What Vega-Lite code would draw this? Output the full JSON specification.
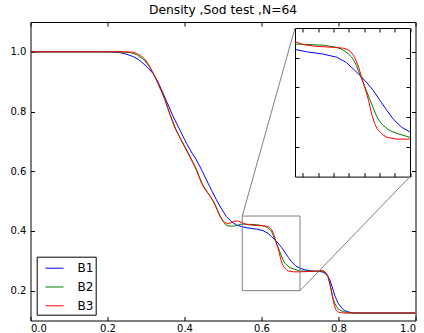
{
  "$schema": "https://vega.github.io/schema/vega-lite/v6.json",
  "width": 385,
  "height": 298.5,
  "autosize": "none",
  "padding": {"left": 30.5, "top": 22, "right": 8.5, "bottom": 12.5},
  "background": "white",
  "title": {"text": "Density ,Sod test ,N=64", "font": "DejaVu Sans", "fontSize": 12.3, "fontWeight": "normal", "color": "black", "offset": 5, "anchor": "middle"},
  "config": {
    "view": {"stroke": null},
    "axis": {"grid": false, "title": null, "domainColor": "black", "domainWidth": 1, "tickColor": "black", "tickWidth": 1, "tickSize": -4, "labelColor": "black", "labelFont": "DejaVu Sans", "labelFontSize": 10}
  },
  "datasets": {
    "curves": [
      {"s":"B1","x":0.0,"y":1.0},{"s":"B1","x":0.2,"y":1.0},{"s":"B1","x":0.23,"y":0.998},{"s":"B1","x":0.25,"y":0.992},{"s":"B1","x":0.267,"y":0.984},{"s":"B1","x":0.28,"y":0.975},{"s":"B1","x":0.292,"y":0.962},{"s":"B1","x":0.305,"y":0.947},{"s":"B1","x":0.318,"y":0.928},{"s":"B1","x":0.33,"y":0.902},{"s":"B1","x":0.34,"y":0.874},{"s":"B1","x":0.355,"y":0.83},{"s":"B1","x":0.37,"y":0.785},{"s":"B1","x":0.388,"y":0.738},{"s":"B1","x":0.405,"y":0.694},{"s":"B1","x":0.42,"y":0.66},{"s":"B1","x":0.431,"y":0.638},{"s":"B1","x":0.445,"y":0.603},{"s":"B1","x":0.457,"y":0.571},{"s":"B1","x":0.47,"y":0.537},{"s":"B1","x":0.483,"y":0.504},{"s":"B1","x":0.496,"y":0.474},{"s":"B1","x":0.509,"y":0.448},{"s":"B1","x":0.522,"y":0.431},{"s":"B1","x":0.535,"y":0.42},{"s":"B1","x":0.55,"y":0.414},{"s":"B1","x":0.565,"y":0.41},{"s":"B1","x":0.587,"y":0.406},{"s":"B1","x":0.604,"y":0.401},{"s":"B1","x":0.617,"y":0.392},{"s":"B1","x":0.626,"y":0.381},{"s":"B1","x":0.635,"y":0.37},{"s":"B1","x":0.643,"y":0.359},{"s":"B1","x":0.652,"y":0.345},{"s":"B1","x":0.661,"y":0.328},{"s":"B1","x":0.67,"y":0.311},{"s":"B1","x":0.678,"y":0.297},{"s":"B1","x":0.689,"y":0.283},{"s":"B1","x":0.7,"y":0.275},{"s":"B1","x":0.712,"y":0.27},{"s":"B1","x":0.725,"y":0.267},{"s":"B1","x":0.74,"y":0.265},{"s":"B1","x":0.752,"y":0.264},{"s":"B1","x":0.76,"y":0.262},{"s":"B1","x":0.767,"y":0.256},{"s":"B1","x":0.773,"y":0.247},{"s":"B1","x":0.778,"y":0.235},{"s":"B1","x":0.782,"y":0.219},{"s":"B1","x":0.786,"y":0.202},{"s":"B1","x":0.79,"y":0.185},{"s":"B1","x":0.795,"y":0.17},{"s":"B1","x":0.799,"y":0.158},{"s":"B1","x":0.806,"y":0.146},{"s":"B1","x":0.812,"y":0.137},{"s":"B1","x":0.818,"y":0.132},{"s":"B1","x":0.825,"y":0.129},{"s":"B1","x":0.835,"y":0.126},{"s":"B1","x":0.845,"y":0.125},{"s":"B1","x":1.0,"y":0.125},
      {"s":"B2","x":0.0,"y":1.0},{"s":"B2","x":0.24,"y":1.0},{"s":"B2","x":0.26,"y":0.997},{"s":"B2","x":0.275,"y":0.991},{"s":"B2","x":0.29,"y":0.978},{"s":"B2","x":0.3,"y":0.966},{"s":"B2","x":0.31,"y":0.948},{"s":"B2","x":0.32,"y":0.925},{"s":"B2","x":0.33,"y":0.898},{"s":"B2","x":0.345,"y":0.854},{"s":"B2","x":0.364,"y":0.785},{"s":"B2","x":0.378,"y":0.74},{"s":"B2","x":0.391,"y":0.706},{"s":"B2","x":0.403,"y":0.678},{"s":"B2","x":0.415,"y":0.648},{"s":"B2","x":0.422,"y":0.63},{"s":"B2","x":0.428,"y":0.615},{"s":"B2","x":0.432,"y":0.603},{"s":"B2","x":0.438,"y":0.583},{"s":"B2","x":0.446,"y":0.558},{"s":"B2","x":0.454,"y":0.54},{"s":"B2","x":0.461,"y":0.527},{"s":"B2","x":0.467,"y":0.516},{"s":"B2","x":0.474,"y":0.502},{"s":"B2","x":0.48,"y":0.487},{"s":"B2","x":0.487,"y":0.465},{"s":"B2","x":0.493,"y":0.448},{"s":"B2","x":0.5,"y":0.432},{"s":"B2","x":0.506,"y":0.422},{"s":"B2","x":0.513,"y":0.417},{"s":"B2","x":0.522,"y":0.416},{"s":"B2","x":0.531,"y":0.417},{"s":"B2","x":0.538,"y":0.419},{"s":"B2","x":0.544,"y":0.422},{"s":"B2","x":0.55,"y":0.423},{"s":"B2","x":0.5696,"y":0.422},{"s":"B2","x":0.587,"y":0.421},{"s":"B2","x":0.604,"y":0.4175},{"s":"B2","x":0.61,"y":0.415},{"s":"B2","x":0.615,"y":0.411},{"s":"B2","x":0.62,"y":0.406},{"s":"B2","x":0.624,"y":0.401},{"s":"B2","x":0.627,"y":0.395},{"s":"B2","x":0.63,"y":0.387},{"s":"B2","x":0.633,"y":0.377},{"s":"B2","x":0.637,"y":0.364},{"s":"B2","x":0.643,"y":0.345},{"s":"B2","x":0.65,"y":0.322},{"s":"B2","x":0.657,"y":0.3},{"s":"B2","x":0.661,"y":0.292},{"s":"B2","x":0.665,"y":0.286},{"s":"B2","x":0.674,"y":0.277},{"s":"B2","x":0.687,"y":0.271},{"s":"B2","x":0.7,"y":0.266},{"s":"B2","x":0.72,"y":0.265},{"s":"B2","x":0.74,"y":0.265},{"s":"B2","x":0.755,"y":0.265},{"s":"B2","x":0.762,"y":0.263},{"s":"B2","x":0.769,"y":0.258},{"s":"B2","x":0.773,"y":0.245},{"s":"B2","x":0.777,"y":0.225},{"s":"B2","x":0.781,"y":0.204},{"s":"B2","x":0.784,"y":0.185},{"s":"B2","x":0.787,"y":0.17},{"s":"B2","x":0.79,"y":0.158},{"s":"B2","x":0.795,"y":0.147},{"s":"B2","x":0.799,"y":0.139},{"s":"B2","x":0.805,"y":0.134},{"s":"B2","x":0.812,"y":0.13},{"s":"B2","x":0.825,"y":0.126},{"s":"B2","x":0.84,"y":0.125},{"s":"B2","x":1.0,"y":0.125},
      {"s":"B3","x":0.0,"y":1.0},{"s":"B3","x":0.25,"y":1.0},{"s":"B3","x":0.265,"y":0.999},{"s":"B3","x":0.275,"y":0.995},{"s":"B3","x":0.285,"y":0.988},{"s":"B3","x":0.292,"y":0.982},{"s":"B3","x":0.3,"y":0.97},{"s":"B3","x":0.31,"y":0.95},{"s":"B3","x":0.318,"y":0.93},{"s":"B3","x":0.327,"y":0.906},{"s":"B3","x":0.34,"y":0.868},{"s":"B3","x":0.35,"y":0.838},{"s":"B3","x":0.362,"y":0.79},{"s":"B3","x":0.375,"y":0.745},{"s":"B3","x":0.391,"y":0.705},{"s":"B3","x":0.403,"y":0.675},{"s":"B3","x":0.414,"y":0.648},{"s":"B3","x":0.421,"y":0.63},{"s":"B3","x":0.427,"y":0.615},{"s":"B3","x":0.431,"y":0.603},{"s":"B3","x":0.437,"y":0.583},{"s":"B3","x":0.445,"y":0.558},{"s":"B3","x":0.453,"y":0.54},{"s":"B3","x":0.46,"y":0.528},{"s":"B3","x":0.466,"y":0.517},{"s":"B3","x":0.473,"y":0.503},{"s":"B3","x":0.479,"y":0.488},{"s":"B3","x":0.486,"y":0.467},{"s":"B3","x":0.492,"y":0.45},{"s":"B3","x":0.499,"y":0.436},{"s":"B3","x":0.505,"y":0.428},{"s":"B3","x":0.512,"y":0.425},{"s":"B3","x":0.518,"y":0.426},{"s":"B3","x":0.525,"y":0.43},{"s":"B3","x":0.531,"y":0.433},{"s":"B3","x":0.538,"y":0.433},{"s":"B3","x":0.544,"y":0.431},{"s":"B3","x":0.55,"y":0.427},{"s":"B3","x":0.561,"y":0.422},{"s":"B3","x":0.578,"y":0.419},{"s":"B3","x":0.6,"y":0.4175},{"s":"B3","x":0.613,"y":0.416},{"s":"B3","x":0.618,"y":0.414},{"s":"B3","x":0.622,"y":0.411},{"s":"B3","x":0.625,"y":0.406},{"s":"B3","x":0.628,"y":0.4},{"s":"B3","x":0.631,"y":0.391},{"s":"B3","x":0.633,"y":0.384},{"s":"B3","x":0.637,"y":0.367},{"s":"B3","x":0.641,"y":0.35},{"s":"B3","x":0.646,"y":0.328},{"s":"B3","x":0.65,"y":0.305},{"s":"B3","x":0.654,"y":0.289},{"s":"B3","x":0.657,"y":0.281},{"s":"B3","x":0.661,"y":0.275},{"s":"B3","x":0.665,"y":0.27},{"s":"B3","x":0.67,"y":0.266},{"s":"B3","x":0.683,"y":0.263},{"s":"B3","x":0.7,"y":0.263},{"s":"B3","x":0.72,"y":0.264},{"s":"B3","x":0.74,"y":0.265},{"s":"B3","x":0.752,"y":0.267},{"s":"B3","x":0.759,"y":0.268},{"s":"B3","x":0.765,"y":0.263},{"s":"B3","x":0.769,"y":0.256},{"s":"B3","x":0.773,"y":0.247},{"s":"B3","x":0.776,"y":0.232},{"s":"B3","x":0.779,"y":0.213},{"s":"B3","x":0.782,"y":0.195},{"s":"B3","x":0.784,"y":0.18},{"s":"B3","x":0.787,"y":0.163},{"s":"B3","x":0.789,"y":0.152},{"s":"B3","x":0.792,"y":0.141},{"s":"B3","x":0.795,"y":0.133},{"s":"B3","x":0.8,"y":0.128},{"s":"B3","x":0.808,"y":0.126},{"s":"B3","x":0.82,"y":0.125},{"s":"B3","x":1.0,"y":0.125}
    ]
  },
  "layer": [
    {
      "layer": [
        {
          "data": {"name": "curves"},
          "mark": {"type": "line", "strokeWidth": 1, "clip": true},
          "encoding": {
            "x": {"field": "x", "type": "quantitative", "scale": {"domain": [0, 1], "nice": false, "zero": false}, "axis": {"orient": "bottom", "values": [0, 0.2, 0.4, 0.6, 0.8, 1.0], "format": ".1f", "labelPadding": 7}},
            "y": {"field": "y", "type": "quantitative", "scale": {"domain": [0.1, 1.1], "nice": false, "zero": false}, "axis": {"orient": "left", "values": [0.2, 0.4, 0.6, 0.8, 1.0], "format": ".1f", "labelPadding": 8.7}},
            "color": {"field": "s", "type": "nominal", "scale": {"domain": ["B1", "B2", "B3"], "range": ["#0000ff", "#008000", "#ff0000"]},
              "legend": {"orient": "none", "legendX": 6.2, "legendY": 234.7, "title": null, "symbolType": "stroke", "symbolSize": 324, "symbolStrokeWidth": 1, "labelFont": "DejaVu Sans", "labelFontSize": 12, "labelColor": "black", "strokeColor": "black", "fillColor": "white", "padding": 2, "symbolOffset": 6.3, "labelOffset": 13.5, "rowPadding": 2.8}}
          }
        },
        {
          "data": {"values": [{"xa": 0.55, "xb": 0.7, "ya": 0.2, "yb": 0.45}]},
          "mark": {"type": "rect", "fill": null, "fillOpacity": 0, "stroke": "#808080", "strokeWidth": 1},
          "encoding": {
            "x": {"field": "xa", "type": "quantitative"},
            "x2": {"field": "xb"},
            "y": {"field": "ya", "type": "quantitative"},
            "y2": {"field": "yb"}
          }
        },
        {
          "data": {"values": [{"xa": 0.55, "ya": 0.45, "xb": 0.687, "yb": 1.0799}, {"xa": 0.7, "ya": 0.2, "xb": 0.9857, "yb": 0.582}]},
          "mark": {"type": "rule", "stroke": "#808080", "strokeWidth": 1},
          "encoding": {
            "x": {"field": "xa", "type": "quantitative"},
            "x2": {"field": "xb"},
            "y": {"field": "ya", "type": "quantitative"},
            "y2": {"field": "yb"}
          }
        }
      ]
    },
    {
      "data": {"values": [{"x": 0, "y": 0.1}]},
      "mark": {"type": "point", "opacity": 0},
      "encoding": {
        "x": {"field": "x", "type": "quantitative", "scale": {"domain": [0, 1], "nice": false, "zero": false}, "axis": {"orient": "top", "labels": false, "values": [0, 0.2, 0.4, 0.6, 0.8, 1.0]}},
        "y": {"field": "y", "type": "quantitative", "scale": {"domain": [0.1, 1.1], "nice": false, "zero": false}, "axis": {"orient": "right", "labels": false, "values": [0.2, 0.4, 0.6, 0.8, 1.0]}}
      }
    },
    {
      "data": {"name": "curves"},
      "transform": [{"filter": "datum.x >= 0.55 && datum.x <= 0.7"}],
      "mark": {"type": "line", "strokeWidth": 1},
      "encoding": {
        "x": {"field": "x", "type": "quantitative", "scale": {"domain": [0.55, 0.7], "range": [264.5, 379.5], "nice": false, "zero": false}, "axis": {"orient": "bottom", "offset": -143.9, "labels": false, "values": [0.56, 0.58, 0.6, 0.62, 0.64, 0.66, 0.68, 0.7]}},
        "y": {"field": "y", "type": "quantitative", "scale": {"domain": [0.2, 0.45], "range": [154.6, 6], "nice": false, "zero": false}, "axis": {"orient": "left", "offset": -264.5, "labels": false, "values": [0.25, 0.3, 0.35, 0.4]}},
        "color": {"field": "s", "type": "nominal", "legend": null}
      }
    },
    {
      "data": {"values": [{"x": 0.55, "y": 0.2}]},
      "mark": {"type": "point", "opacity": 0},
      "encoding": {
        "x": {"field": "x", "type": "quantitative", "scale": {"domain": [0.55, 0.7], "range": [264.5, 379.5], "nice": false, "zero": false}, "axis": {"orient": "top", "offset": -6, "labels": false, "values": [0.56, 0.58, 0.6, 0.62, 0.64, 0.66, 0.68, 0.7]}},
        "y": {"field": "y", "type": "quantitative", "scale": {"domain": [0.2, 0.45], "range": [154.6, 6], "nice": false, "zero": false}, "axis": {"orient": "right", "offset": -5.5, "labels": false, "values": [0.25, 0.3, 0.35, 0.4]}}
      }
    }
  ],
  "resolve": {"scale": {"x": "independent", "y": "independent"}, "axis": {"x": "independent", "y": "independent"}}
}
